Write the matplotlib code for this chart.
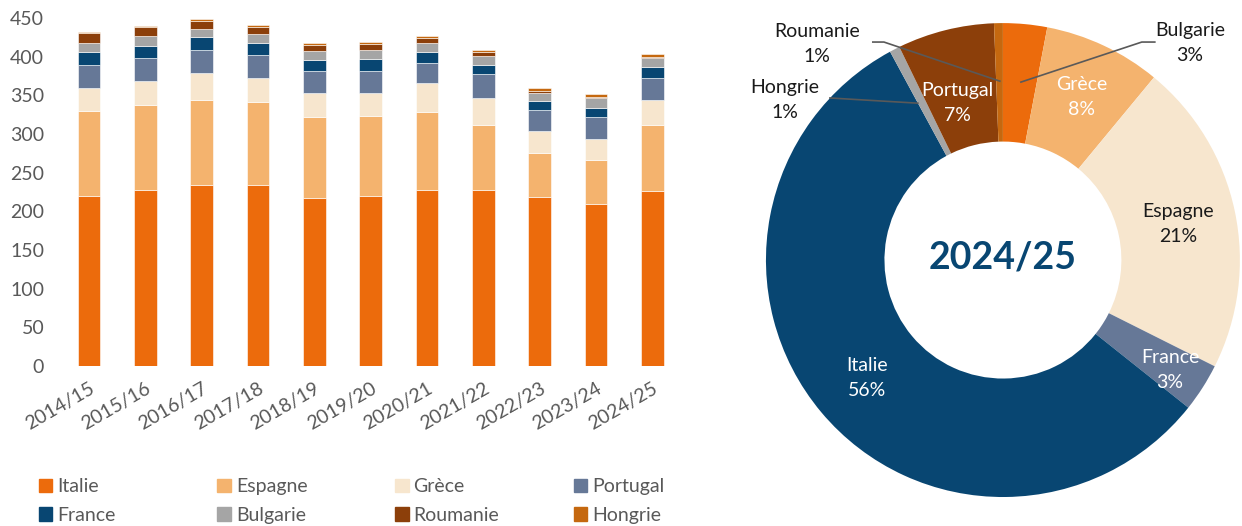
import numpy as np
import matplotlib
matplotlib.use("Agg")
import matplotlib.pyplot as plt
from matplotlib.patches import Patch

plt.rcParams["font.family"] = ["Lato", "DejaVu Sans"]

# --- data -------------------------------------------------------------
seasons = ["2014/15", "2015/16", "2016/17", "2017/18", "2018/19", "2019/20",
           "2020/21", "2021/22", "2022/23", "2023/24", "2024/25"]
countries = ["Italie", "Espagne", "Grèce", "Portugal",
             "France", "Bulgarie", "Roumanie", "Hongrie"]
italie   = [220, 228, 234, 234, 217, 220, 228, 228, 219, 210, 226]
espagne  = [110, 109, 110, 107, 105, 103, 101,  84,  56,  56,  86]
grece    = [ 30,  32,  35,  31,  31,  30,  37,  35,  29,  27,  32]
portugal = [ 29,  29,  29,  30,  29,  29,  26,  30,  27,  29,  28]
france   = [ 17,  16,  17,  16,  13,  15,  14,  12,  11,  12,  15]
bulgarie = [ 12,  13,  11,  11,  12,  12,  12,  12,  11,  12,  11]
roumanie = [ 12,  11,  10,   9,   8,   7,   6,   5,   3,   2,   2]
hongrie  = [  2,   2,   3,   3,   3,   3,   3,   3,   3,   3,   3]
series = [italie, espagne, grece, portugal, france, bulgarie, roumanie, hongrie]

# donut for 2024/25, as labelled in the source (clockwise from 12 o'clock)
pie_labels = ["Bulgarie", "Grèce", "Espagne", "France",
              "Italie", "Hongrie", "Portugal", "Roumanie"]
pie_share = [3.0, 8.0, 21.4, 3.3, 56.4, 0.7, 6.6, 0.6]

COLORS = ["#EC6B0C", "#F4B36E", "#F7E6CE", "#667897",
          "#084672", "#A5A5A5", "#8C3F0A", "#C5680F"]
GREY = "#595959"

fig = plt.figure(figsize=(12.42, 5.26), dpi=100)

# --- stacked bars -----------------------------------------------------
ax = fig.add_axes([0.049, 0.304, 0.499, 0.662])
x = np.arange(len(seasons))
bottom = np.zeros(len(seasons))
for name, vals, col in zip(countries, series, COLORS):
    ax.bar(x, vals, 0.4, bottom=bottom, color=col, label=name,
           edgecolor="white", linewidth=0.4)
    bottom += np.array(vals)
ax.set_xlim(-0.5, len(seasons) - 0.5)
ax.set_ylim(0, 450)
ax.set_yticks(range(0, 451, 50))
ax.set_xticks(x)
ax.set_xticklabels(seasons, rotation=30, ha="right", rotation_mode="anchor")
ax.tick_params(length=0, labelsize=14, colors=GREY)
ax.tick_params(axis="y", pad=12)
ax.tick_params(axis="x", pad=10)
for s in ax.spines.values():
    s.set_visible(False)

# legend: 4 columns laid out row by row
handles = [Patch(color=c) for c in COLORS]
col_x = [0.031, 0.175, 0.318, 0.462]
for k in range(4):
    idx = [k, k + 4]
    fig.legend([handles[i] for i in idx], [countries[i] for i in idx],
               loc="upper left", bbox_to_anchor=(col_x[k], 0.091),
               frameon=False, fontsize=14, handlelength=0.7, handleheight=0.7,
               handletextpad=0.25, labelspacing=0.6, borderaxespad=0,
               borderpad=0, labelcolor=GREY)

# --- donut ------------------------------------------------------------
ax2 = fig.add_axes([0.6167, 0.0551, 0.3816, 0.901])
ax2.pie(pie_share, colors=COLORS, startangle=90, counterclock=False,
        radius=1.0, wedgeprops=dict(width=0.5, linewidth=0))
ax2.set_xlim(-1, 1)
ax2.set_ylim(-1, 1)
ax2.set_aspect("equal")
ax2.axis("off")

ax2.text(0, 0.01, "2024/25", ha="center", va="center", fontsize=27,
         fontweight="bold", color="#084672")

label_pos = {
    "Bulgarie": (0.789, 0.916, "#1a1a1a"),
    "Grèce": (0.333, 0.688, "white"),
    "Espagne": (0.738, 0.152, "#1a1a1a"),
    "France": (0.705, -0.464, "white"),
    "Italie": (-0.574, -0.498, "white"),
    "Hongrie": (-0.920, 0.675, "#1a1a1a"),
    "Portugal": (-0.194, 0.662, "white"),
    "Roumanie": (-0.785, 0.911, "#1a1a1a"),
}
for name, share in zip(pie_labels, pie_share):
    px, py, tc = label_pos[name]
    ax2.text(px, py, f"{name}\n{share:.0f}%", ha="center", va="center",
             fontsize=14, color=tc, linespacing=1.6, clip_on=False)

leaders = [
    ([0.076, 0.586, 0.641], [0.751, 0.920, 0.920]),      # Bulgarie
    ([-0.359, -0.730], [0.662, 0.684]),                  # Hongrie
    ([-0.013, -0.502, -0.549], [0.755, 0.920, 0.920]),   # Roumanie
]
for lx, ly in leaders:
    ax2.plot(lx, ly, color=GREY, lw=1.2, clip_on=False)

fig.savefig("out.png", dpi=100)
